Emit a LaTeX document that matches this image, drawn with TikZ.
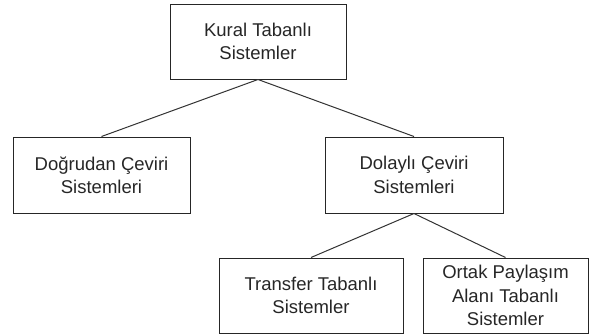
\documentclass[tikz,border=0pt]{standalone}
\usepackage{fontspec}
\setmainfont{Liberation Sans}
\begin{document}
\begin{tikzpicture}[x=1pt,y=-1pt,
  box/.style={draw=black!85, line width=1pt, inner sep=0pt, align=center,
    font=\fontsize{18.5}{23.3}\selectfont, text=black!85},
  link/.style={draw=black!80, line width=1pt}]
\useasboundingbox (0,0) rectangle (590,335);
\node[box, minimum width=176pt, minimum height=75pt] (kural) at (258,41.5) {Kural Tabanlı\\Sistemler};
\node[box, minimum width=177pt, minimum height=76pt] (dogru) at (101.5,175) {Doğrudan Çeviri\\Sistemleri};
\node[box, minimum width=178pt, minimum height=76pt] (dolayli) at (414,175) {Dolaylı Çeviri\\Sistemleri};
\node[box, minimum width=184pt, minimum height=75pt] (transfer) at (311,295.5) {Transfer Tabanlı\\Sistemler};
\node[box, minimum width=165pt, minimum height=75pt] (ortak) at (505.5,295.5) {Ortak Paylaşım\\Alanı Tabanlı\\Sistemler};
\draw[link] (kural.south) -- (dogru.north);
\draw[link] (kural.south) -- (dolayli.north);
\draw[link] (dolayli.south) -- (transfer.north);
\draw[link] (dolayli.south) -- (ortak.north);
\end{tikzpicture}
\end{document}
